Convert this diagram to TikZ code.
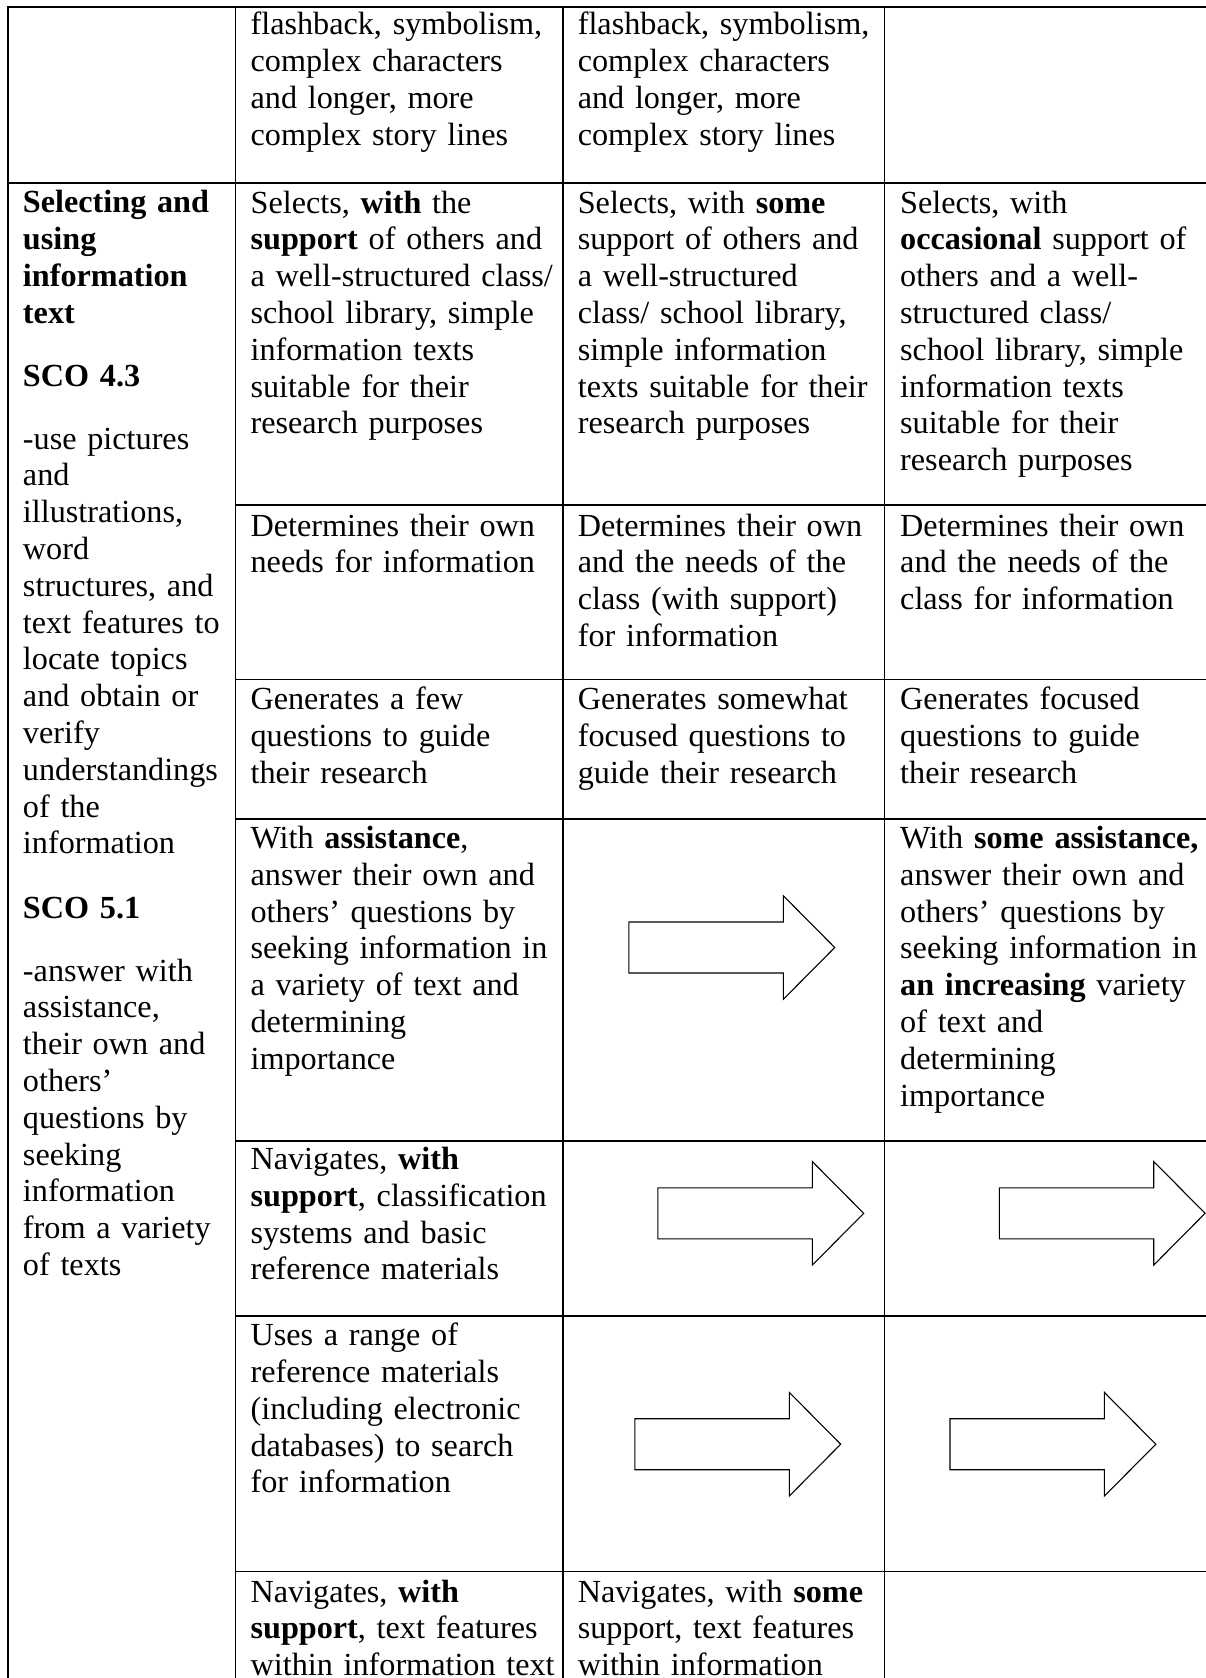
\documentclass[tikz,border=0pt]{standalone}
\usepackage{fontspec}
\setmainfont{Liberation Serif}
\begin{document}
\begin{tikzpicture}[x=1pt,y=-1pt,
  gridline/.style={line width=1.6pt, black},
  cell/.style={anchor=base west, inner sep=0pt, outer sep=0pt, text width=#1, align=left,
    font=\fontsize{32.2}{36.8}\selectfont},
  cell/.default=330pt,
  arrowline/.style={line width=1.1pt, black, fill=white, line join=miter},
  barrow/.pic={\draw[arrowline] (0,-25.5) -- (154.4,-25.5) -- (154.4,-51.8) -- (205.8,0)
     -- (154.4,51.8) -- (154.4,25.5) -- (0,25.5) -- cycle;}
]
\useasboundingbox (0,0) rectangle (1205,1678);
\fill[white] (0,0) rectangle (1205,1678);

% ---- grid ----
\draw[gridline] (7.7,1690) -- (7.7,7.3);
\draw[gridline] (235.4,1690) -- (235.4,7.3);
\draw[gridline] (562.7,1690) -- (562.7,7.3);
\draw[gridline] (884.6,1690) -- (884.6,7.3);
\draw[gridline] (6.9,7.3) -- (1210,7.3);
\draw[gridline] (6.9,182.7) -- (1210,182.7);
\foreach \yy in {505,679.3,819,1140.7,1315.7,1571.5}
  \draw[gridline] (235.4,\yy) -- (1210,\yy);

% ---- row 1 ----
\node[cell] (r1c2) at (250.6,35) {flashback, symbolism,\\complex characters\\and longer, more\\complex story lines};
\node[cell] (r1c3) at (577.8,35) {flashback, symbolism,\\complex characters\\and longer, more\\complex story lines};

% ---- column 1 ----
\node[cell=215pt] (c1a) at (23,212.8) {\textbf{Selecting and}\\\textbf{using}\\\textbf{information}\\\textbf{text}};
\node[cell=215pt] (c1b) at (23,386.7) {\textbf{SCO 4.3}};
\node[cell=215pt] (c1c) at (23,449) {-use pictures\\and\\illustrations,\\word\\structures, and\\text features to\\locate topics\\and obtain or\\verify\\understandings\\of the\\information};
\node[cell=215pt] (c1d) at (23,918) {\textbf{SCO 5.1}};
\node[cell=215pt] (c1e) at (23,981) {-answer with\\assistance,\\their own and\\others’\\questions by\\seeking\\information\\from a variety\\of texts};

% ---- row 2 ----
\node[cell] (r2c2) at (250.6,213) {Selects, \textbf{with} the\\\textbf{support} of others and\\a well-structured class/\\school library, simple\\information texts\\suitable for their\\research purposes};
\node[cell] (r2c3) at (577.8,213) {Selects, with \textbf{some}\\support of others and\\a well-structured\\class/ school library,\\simple information\\texts suitable for their\\research purposes};
\node[cell] (r2c4) at (900.2,213) {Selects, with\\\textbf{occasional} support of\\others and a well-\\structured class/\\school library, simple\\information texts\\suitable for their\\research purposes};

% ---- row 3 ----
\node[cell] (r3c2) at (250.6,536) {Determines their own\\needs for information};
\node[cell] (r3c3) at (577.8,536) {Determines their own\\and the needs of the\\class (with support)\\for information};
\node[cell] (r3c4) at (900.2,536) {Determines their own\\and the needs of the\\class for information};

% ---- row 4 ----
\node[cell] (r4c2) at (250.6,709.5) {Generates a few\\questions to guide\\their research};
\node[cell] (r4c3) at (577.8,709.5) {Generates somewhat\\focused questions to\\guide their research};
\node[cell] (r4c4) at (900.2,709.5) {Generates focused\\questions to guide\\their research};

% ---- row 5 ----
\node[cell] (r5c2) at (250.6,848.5) {With \textbf{assistance},\\answer their own and\\others’ questions by\\seeking information in\\a variety of text and\\determining\\importance};
\node[cell] (r5c4) at (900.2,848.5) {With \textbf{some assistance,}\\answer their own and\\others’ questions by\\seeking information in\\\textbf{an increasing} variety\\of text and\\determining\\importance};
\pic at (628.9,947.5) {barrow};

% ---- row 6 ----
\node[cell] (r6c2) at (250.6,1169.5) {Navigates, \textbf{with}\\\textbf{support}, classification\\systems and basic\\reference materials};
\pic at (657.9,1213.3) {barrow};
\pic at (999.3,1213.3) {barrow};

% ---- row 7 ----
\node[cell] (r7c2) at (250.6,1345.7) {Uses a range of\\reference materials\\(including electronic\\databases) to search\\for information};
\pic at (634.9,1444.2) {barrow};
\pic at (950,1444.2) {barrow};

% ---- row 8 ----
\node[cell] (r8c2) at (250.6,1602) {Navigates, \textbf{with}\\\textbf{support}, text features\\within information text};
\node[cell] (r8c3) at (577.8,1602) {Navigates, with \textbf{some}\\support, text features\\within information};
\end{tikzpicture}
\end{document}
